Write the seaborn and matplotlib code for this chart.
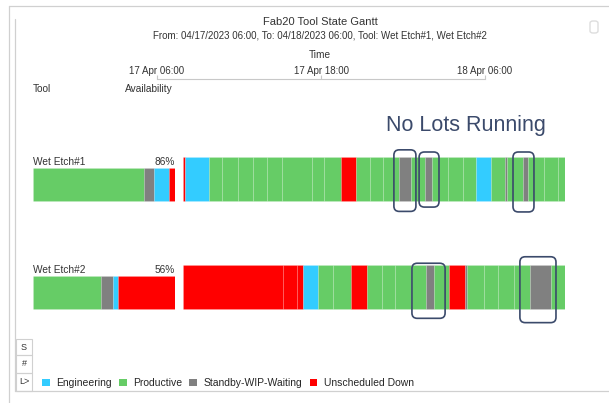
import matplotlib
matplotlib.use("Agg")
from matplotlib import pyplot as plt
from matplotlib.patches import Patch, Rectangle, FancyBboxPatch
from matplotlib.lines import Line2D
import seaborn as sns

# states and colours
states = ["Engineering", "Productive", "Standby-WIP-Waiting", "Unscheduled Down"]
state_colors = ["#33CCFF", "#66CC66", "#808080", "#FF0000"]

tools = ["Wet Etch#1", "Wet Etch#2"]
availability = ["86%", "56%"]

# gantt segments, duration in minutes from 17 Apr 06:00
etch1_state = ["Unscheduled Down", "Engineering",
               "Productive", "Productive", "Productive", "Productive",
               "Productive", "Productive", "Productive", "Productive",
               "Unscheduled Down", "Productive", "Productive", "Productive",
               "Standby-WIP-Waiting", "Productive", "Standby-WIP-Waiting",
               "Productive", "Productive", "Productive", "Engineering",
               "Productive", "Standby-WIP-Waiting", "Productive",
               "Standby-WIP-Waiting", "Productive", "Productive", "Productive"]
etch1_dur = [8, 90, 49, 60, 57, 53, 57, 113, 45, 64, 57, 53, 49, 60, 45, 53,
             26, 60, 57, 49, 57, 53, 8, 60, 19, 57, 53, 28]

etch2_state = ["Unscheduled Down", "Unscheduled Down", "Unscheduled Down",
               "Engineering", "Productive", "Productive", "Unscheduled Down",
               "Productive", "Productive", "Productive", "Productive",
               "Standby-WIP-Waiting", "Productive", "Unscheduled Down",
               "Standby-WIP-Waiting", "Productive", "Productive", "Productive",
               "Productive", "Standby-WIP-Waiting", "Productive"]
etch2_dur = [377, 53, 23, 57, 57, 68, 60, 57, 49, 57, 57, 30, 57, 60, 8, 64,
             53, 60, 60, 79, 54]

# "No Lots Running" call-outs (row, start min, end min, top, bottom)
box_row = [0, 0, 0, 1, 1]
box_start = [795, 890, 1244, 863, 1270]
box_end = [878, 965, 1323, 988, 1406]
box_top = [-0.27, -0.25, -0.25, -0.22, -0.28]
box_bottom = [0.30, 0.26, 0.305, 0.29, 0.33]

time_ticks = [0, 12, 24]
time_labels = ["17 Apr 06:00", "17 Apr 18:00", "18 Apr 06:00"]

sns.set_theme(style="white")
plt.rcParams["font.family"] = ["Liberation Sans", "DejaVu Sans"]

W, H = 609, 403
fig = plt.figure(figsize=(W / 100, H / 100), dpi=100)
color_of = dict(zip(states, sns.color_palette(state_colors)))
line_gray = "#d0d0d0"
txt = "#333333"
sep = (1, 1, 1, 0.12)


def fbox(x0, y0, x1, y1):
    return [x0 / W, 1 - y1 / H, (x1 - x0) / W, (y1 - y0) / H]


# gantt area
ax = fig.add_axes(fbox(183, 125, 565, 341))
ax.set_xlim(0, 1440)
ax.set_ylim(1.5, -0.5)
ax.axis("off")

# availability area
ax_a = fig.add_axes(fbox(33, 125, 175, 341))
ax_a.set_xlim(0, 1)
ax_a.set_ylim(1.5, -0.5)
ax_a.axis("off")

rows = [(etch1_state, etch1_dur), (etch2_state, etch2_dur)]
for i, (st, du) in enumerate(rows):
    left = 0
    for s, d in zip(st, du):
        ax.barh(i, d, left=left, height=0.41, color=color_of[s],
                edgecolor=sep, linewidth=0.7)
        left += d
    total = sum(du)
    share = {s: sum(d for s2, d in zip(st, du) if s2 == s) / total for s in states}
    left = 0
    for s in ["Productive", "Standby-WIP-Waiting", "Engineering", "Unscheduled Down"]:
        ax_a.barh(i + 0.05, share[s], left=left, height=0.3, color=color_of[s],
                  edgecolor=sep, linewidth=0.6)
        left += share[s]
    ax_a.text(0, i - 0.11, tools[i], fontsize=7.3, va="bottom", ha="left", color=txt)
    ax_a.text(1, i - 0.11, availability[i], fontsize=7.3, va="bottom", ha="right", color=txt)

# call-out boxes
aspect = (2 / 216) / (1440 / 382)
for r, x0, x1, t, b in zip(box_row, box_start, box_end, box_top, box_bottom):
    ax.add_patch(FancyBboxPatch((x0, r + t), x1 - x0, b - t,
                                boxstyle="round,pad=0,rounding_size=20",
                                mutation_aspect=aspect, fill=False,
                                edgecolor="#3b4a6b", linewidth=1.2,
                                clip_on=False, zorder=5))

fig.text(386 / W, 1 - 126 / H, "No Lots Running", fontsize=15.5,
         color="#3b4a6b", va="center", ha="left")

# time axis
ax_t = fig.add_axes(fbox(157, 78, 485, 79))
ax_t.set_xlim(0, 24)
ax_t.set_xticks(time_ticks)
ax_t.set_xticklabels(time_labels)
ax_t.set_yticks([])
for side in ["top", "left", "right"]:
    ax_t.spines[side].set_visible(False)
ax_t.spines["bottom"].set_color("#c8c8c8")
ax_t.spines["bottom"].set_linewidth(0.8)
ax_t.patch.set_alpha(0)
ax_t.tick_params(axis="x", bottom=True, top=False, direction="in", length=3,
                 color="#c8c8c8", width=0.8, labelbottom=False, labeltop=True,
                 labelsize=7, pad=1.8, labelcolor=txt)

# titles and headers
fig.text(320 / W, 1 - 22 / H, "Fab20 Tool State Gantt", fontsize=8, ha="center", va="center", color=txt)
fig.text(320 / W, 1 - 35 / H, "From: 04/17/2023 06:00, To: 04/18/2023 06:00, Tool: Wet Etch#1, Wet Etch#2",
         fontsize=7, ha="center", va="center", color=txt)
fig.text(320 / W, 1 - 55 / H, "Time", fontsize=7.3, ha="center", va="center", color=txt)
fig.text(33 / W, 1 - 89 / H, "Tool", fontsize=7.3, ha="left", va="center", color=txt)
fig.text(125 / W, 1 - 89 / H, "Availability", fontsize=7.3, ha="left", va="center", color=txt)

# panel frame
for (x0, y0, x1, y1) in [(9, 6, 609, 6), (9, 6, 9, 403), (15, 19, 15, 391), (15, 391, 609, 391)]:
    fig.add_artist(Line2D([x0 / W, x1 / W], [1 - y0 / H, 1 - y1 / H], color=line_gray, linewidth=0.9))
for (y0, y1, lab) in [(339, 355, "S"), (355, 373, "#"), (373, 391, "L>")]:
    fig.add_artist(Rectangle((16 / W, 1 - y1 / H), 16 / W, (y1 - y0) / H, fill=False,
                             edgecolor=line_gray, linewidth=0.8))
    fig.text(24 / W, 1 - (y0 + y1) / 2 / H, lab, fontsize=6.5, ha="center", va="center", color=txt)
fig.add_artist(FancyBboxPatch((590 / W, 1 - 33 / H), 8 / W, 12 / H,
                              boxstyle="round,pad=0,rounding_size=0.005",
                              fill=False, edgecolor="#dddddd", linewidth=1))

# legend
handles = [Patch(facecolor=color_of[s], edgecolor="none", label=s) for s in states]
fig.legend(handles=handles, loc="center left", bbox_to_anchor=(42 / W, 1 - 383 / H),
           ncol=4, frameon=False, fontsize=7.5, handlelength=0.75, handleheight=0.75,
           handletextpad=0.6, columnspacing=0.7, borderpad=0, borderaxespad=0)

fig.savefig("out.png", dpi=100)
